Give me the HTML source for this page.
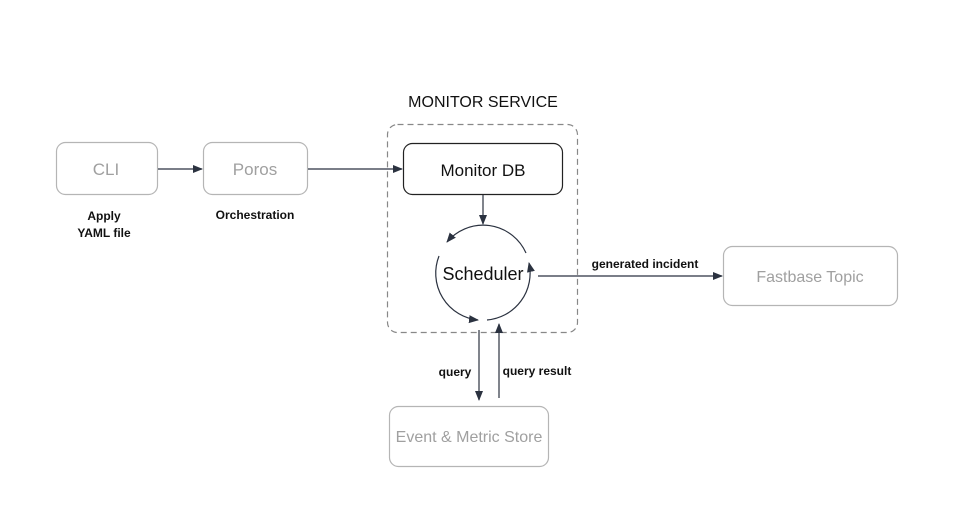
<!DOCTYPE html>
<html><head><style>
body{margin:0;background:#fff;width:955px;height:525px;overflow:hidden}
svg{display:block}
text{font-family:"Liberation Sans",sans-serif}
</style></head><body>
<svg width="955" height="525" viewBox="0 0 955 525">
<defs>
<marker id="a" markerWidth="10" markerHeight="10" refX="9" refY="5" orient="auto" markerUnits="userSpaceOnUse"><path d="M0,1 L10,5 L0,9 Z" fill="#2b3240"/></marker>
</defs>
<g fill="none" stroke-width="1.2">
<rect x="56.5" y="142.5" width="101" height="52" rx="9" stroke="#b5b5b5"/>
<rect x="203.5" y="142.5" width="104" height="52" rx="9" stroke="#b5b5b5"/>
<rect x="387.5" y="124.5" width="190" height="208" rx="10" stroke="#888" stroke-dasharray="6,4"/>
<rect x="403.5" y="143.5" width="159" height="51" rx="9" stroke="#222"/>
<rect x="723.5" y="246.5" width="174" height="59" rx="9" stroke="#b5b5b5"/>
<rect x="389.5" y="406.5" width="159" height="60" rx="9" stroke="#b5b5b5"/>
<g stroke="#2b3240">
<line x1="158" y1="169" x2="202" y2="169" marker-end="url(#a)"/>
<line x1="308" y1="169" x2="402" y2="169" marker-end="url(#a)"/>
<line x1="483" y1="195" x2="483" y2="224" marker-end="url(#a)"/>
<line x1="538" y1="276" x2="722" y2="276" marker-end="url(#a)"/>
<line x1="479" y1="330" x2="479" y2="400" marker-end="url(#a)"/>
<line x1="499" y1="398" x2="499" y2="324" marker-end="url(#a)"/>
<path d="M526,253 A47,47 0 0 0 447,242" marker-end="url(#a)"/>
<path d="M439,256 A47,47 0 0 0 478,320" marker-end="url(#a)"/>
<path d="M487,320 A47,47 0 0 0 529,263" marker-end="url(#a)"/>
</g>
</g>
<g text-anchor="middle">
<text x="106" y="175" font-size="17" fill="#a0a0a0">CLI</text>
<text x="255" y="175" font-size="17" fill="#a0a0a0">Poros</text>
<text x="483" y="107" font-size="16" fill="#111">MONITOR SERVICE</text>
<text x="483" y="176" font-size="17" fill="#111">Monitor DB</text>
<text x="483" y="280" font-size="18" fill="#111">Scheduler</text>
<text x="810" y="282" font-size="16" fill="#a0a0a0">Fastbase Topic</text>
<text x="469" y="442" font-size="16" fill="#a0a0a0">Event &amp; Metric Store</text>
<g font-weight="600">
<text x="104" y="220" font-size="12" fill="#111">Apply</text>
<text x="104" y="237" font-size="12" fill="#111">YAML file</text>
<text x="255" y="219" font-size="12" fill="#111">Orchestration</text>
<text x="645" y="268" font-size="12" fill="#111">generated incident</text>
<text x="455" y="376" font-size="12" fill="#111">query</text>
<text x="537" y="375" font-size="12" fill="#111">query result</text>
</g>
</g>
</svg>
</body></html>
